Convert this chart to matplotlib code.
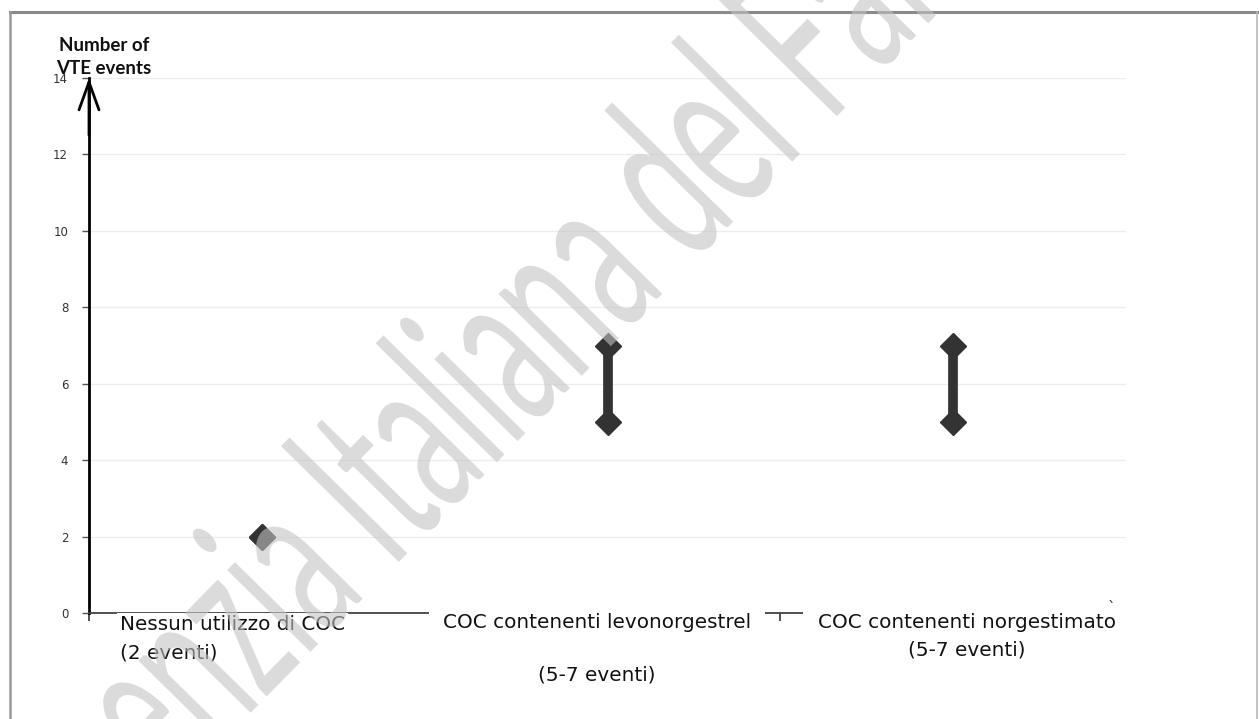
import matplotlib
matplotlib.use("Agg")
import matplotlib.pyplot as plt
from matplotlib.patheffects import AbstractPathEffect
from matplotlib.transforms import Affine2D
from matplotlib.lines import Line2D

# ---------------- data ----------------
categories = ["Nessun utilizzo di COC", "COC contenenti levonorgestrel", "COC contenenti norgestimato"]
sub_labels = ["(2 eventi)", "(5-7 eventi)", "(5-7 eventi)"]
low_events = [2, 5, 5]
high_events = [2, 7, 7]
y_ticks = [0, 2, 4, 6, 8, 10, 12, 14]
y_title = "Number of\nVTE events"
watermark = "Agenzia Italiana del Farmaco"

W, H = 1259, 719
fig = plt.figure(figsize=(W / 100, H / 100), dpi=100)
ax = fig.add_axes([89 / W, 106 / H, (1126 - 89) / W, (613 - 78) / H])

x = list(range(len(categories)))
dark = "#333333"

# range bars + diamonds
for xi, lo, hi in zip(x, low_events, high_events):
    if hi > lo:
        ax.vlines(xi, lo, hi, color=dark, lw=7, zorder=3)
ax.plot(x, low_events, "D", ms=13.5, color=dark, mec=dark, zorder=4, ls="none")
ax.plot(x, high_events, "D", ms=13.5, color=dark, mec=dark, zorder=4, ls="none")

ax.set_xlim(-0.5, len(categories) - 0.5)
ax.set_ylim(0, 14)
ax.set_yticks(y_ticks)
ax.set_xticks([-0.5, 0.5, 1.5])
ax.set_xticklabels([])
ax.yaxis.grid(True, color="#ececec", lw=1)
ax.set_axisbelow(True)

for s in ["top", "right"]:
    ax.spines[s].set_visible(False)
ax.spines["left"].set_color("black")
ax.spines["left"].set_linewidth(2)
ax.spines["bottom"].set_color("#444444")
ax.spines["bottom"].set_linewidth(1.3)
ax.tick_params(axis="y", direction="out", length=5, width=1, color="#555555",
               labelsize=8.5, labelcolor="#333333", pad=10)
ax.tick_params(axis="x", direction="out", length=6, width=1.2, color="#333333")

# arrow head on the y axis
ax.annotate("", xy=(-0.5, 14), xytext=(-0.5, 12.5),
            arrowprops=dict(arrowstyle="->,head_length=1.0,head_width=0.36",
                            lw=2, color="black", mutation_scale=20,
                            shrinkA=0, shrinkB=0),
            annotation_clip=False, zorder=5)

# category labels
lab_font = dict(fontsize=14.4, color="#111111", family="DejaVu Sans", clip_on=False, zorder=5)
ax.text(x[0] - 0.41, -0.31, categories[0], ha="left", va="center",
        bbox=dict(facecolor="white", edgecolor="none", pad=2), **lab_font)
ax.text(x[0] - 0.41, -1.05, sub_labels[0], ha="left", va="center", **lab_font)
ax.text(x[1] - 0.03, -0.26, categories[1], ha="center", va="center",
        bbox=dict(facecolor="white", edgecolor="none", pad=10), **lab_font)
ax.text(x[1] - 0.03, -1.62, sub_labels[1], ha="center", va="center", **lab_font)
ax.text(x[2] + 0.04, -0.26, categories[2], ha="center", va="center",
        bbox=dict(facecolor="white", edgecolor="none", pad=11), **lab_font)
ax.text(x[2] + 0.04, -0.97, sub_labels[2], ha="center", va="center", **lab_font)
ax.text(2.459, 0.12, "`", ha="center", va="center", fontsize=11, color="#333333",
        clip_on=False, zorder=5)

# y title
fig.text(104 / W, 1 - 57 / H, y_title, ha="center", va="center", fontsize=13.5,
         fontweight="bold", family="Lato", color="#111111", linespacing=1.45, zorder=6)

# frame border
fig.add_artist(Line2D([10 / W, 1257 / W], [707 / H, 707 / H], transform=fig.transFigure,
                      color="#8a8a8a", lw=2.2))
fig.add_artist(Line2D([10 / W, 10 / W], [0, 707 / H], transform=fig.transFigure,
                      color="#9a9a9a", lw=1.8))
fig.add_artist(Line2D([1256.5 / W, 1256.5 / W], [0, 707 / H], transform=fig.transFigure,
                      color="#b8b8b8", lw=1.2))


# watermark (stretched, rotated)
class Stretch(AbstractPathEffect):
    def __init__(self, cx, cy, sx, sy, angle):
        super().__init__()
        self.warp = (Affine2D().translate(-cx, -cy).scale(sx, sy)
                     .rotate_deg(angle).translate(cx, cy))

    def draw_path(self, renderer, gc, tpath, affine, rgbFace=None):
        renderer.draw_path(gc, tpath, affine + self.warp, rgbFace)


cx, cy = 613, 375
fig.text(cx / W, cy / H, watermark, ha="center", va="baseline", fontsize=20,
         family=["Lato", "Liberation Sans"], fontweight="normal",
         color=(195 / 255, 195 / 255, 195 / 255), alpha=0.59,
         zorder=10, path_effects=[Stretch(cx, cy, 4.5, 8.3, 45.5)])

fig.savefig("out.png", dpi=100)
